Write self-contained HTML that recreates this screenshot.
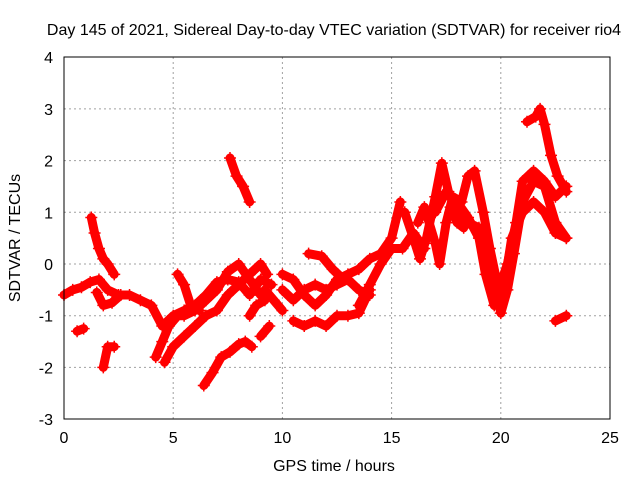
<!DOCTYPE html>
<html><head><meta charset="utf-8"><style>
body{margin:0;background:#fff}
svg text{font-family:"Liberation Sans",sans-serif;font-size:16px;fill:#000}
</style></head><body>
<svg id="chart" width="640" height="480" xmlns="http://www.w3.org/2000/svg">
<g id="grid"></g>
<g id="marks"></g>
<rect x="64" y="57" width="546" height="362" fill="none" stroke="#000" stroke-width="1"/>
<g id="ticks"></g>
<text x="334" y="35" text-anchor="middle">Day 145 of 2021, Sidereal Day-to-day VTEC variation (SDTVAR) for receiver rio4</text>
<text x="334" y="471" text-anchor="middle">GPS time / hours</text>
<text transform="translate(20,238) rotate(-90)" text-anchor="middle">SDTVAR / TECUs</text>
</svg>
<script>
const xTicks=[0,5,10,15,20,25];
const yTicks=[-3,-2,-1,0,1,2,3,4];
const trackTimes=[
[0,0.4,0.8,1.2,1.6,2.0,2.5,3,3.5,4.0,4.5,5,5.5,6,6.5,7,7.5,8,8.5,9,9.5],
[1.25,1.4,1.6,1.8,2.0,2.3],
[1.5,1.8,2.2,2.6],
[0.6,0.9],
[1.8,2.0,2.3],
[4.2,4.5,4.8,5.2,5.5,6,6.5,7,7.5,8,8.5,9],
[4.6,5,5.5,6,6.5,7,7.5,8,8.5,9,9.3],
[5.2,5.5,5.8,6.2],
[6.4,6.8,7.2,7.6,8.0,8.3,8.6],
[7.6,7.9,8.2,8.5],
[8.5,8.8,9.2],
[9.0,9.4],
[10,10.5,11,11.5,12,12.5,13,13.5,14],
[10,10.5,11,11.5,12,12.5,13,13.5,14,14.5,15,15.4],
[10.5,11,11.5,12,12.5,13,13.5,14],
[11.2,11.8,12.3,12.8],
[9.2,9.6,10],
[13.5,14,14.5,15,15.5,16,16.5],
[15.6,16,16.3,16.6,17,17.3,17.6,18,18.5,19,19.5,19.8,20,20.3,20.6,21,21.5,22,22.5,23],
[16.2,16.5,17,17.2,17.5,17.8,18.2,18.5,18.8,19.2,19.5,19.9,20.3,20.7,21,21.5,22,22.5,23],
[17,17.5,18,18.5,19,19.3,19.7,20.2,20.5,21,21.5,22,22.5,23],
[21.2,21.6,21.8,22,22.3,22.6,23],
[22.5,23],
[17.7,18,18.3]
];
const trackValues=[
[-0.6,-0.5,-0.45,-0.35,-0.3,-0.5,-0.6,-0.6,-0.7,-0.8,-1.2,-1.0,-0.9,-0.8,-0.6,-0.35,-0.3,-0.35,-0.6,-0.3,-0.4],
[0.9,0.6,0.3,0.1,0.0,-0.2],
[-0.55,-0.8,-0.75,-0.6],
[-1.3,-1.25],
[-2.0,-1.6,-1.6],
[-1.8,-1.5,-1.2,-1.0,-1.0,-0.9,-0.7,-0.5,-0.15,0.0,-0.3,-0.6],
[-1.9,-1.6,-1.4,-1.2,-1.0,-0.9,-0.6,-0.4,-0.2,0.0,-0.2],
[-0.2,-0.4,-0.8,-0.9],
[-2.35,-2.1,-1.8,-1.7,-1.55,-1.5,-1.6],
[2.05,1.7,1.5,1.2],
[-1.0,-0.8,-0.7],
[-1.4,-1.2],
[-0.5,-0.7,-0.5,-0.4,-0.5,-0.4,-0.3,-0.5,-0.6],
[-0.2,-0.3,-0.6,-0.8,-0.6,-0.3,-0.2,-0.1,0.1,0.2,0.5,1.2],
[-1.1,-1.2,-1.1,-1.2,-1.0,-1.0,-0.95,-0.5],
[0.2,0.15,-0.1,-0.3],
[-0.5,-0.7,-0.9],
[-0.8,-0.4,0.0,0.3,0.3,0.6,0.3],
[1.0,0.5,0.1,0.5,1.3,1.95,1.4,1.0,0.8,0.7,0.0,-0.6,-0.95,-0.5,0.2,1.2,1.6,1.5,0.8,0.5],
[0.8,1.1,0.4,0.0,0.8,1.3,1.2,1.7,1.8,1.0,0.3,-0.5,0.0,0.8,1.6,1.8,1.6,1.3,1.5],
[1.0,1.4,1.2,0.9,0.5,-0.2,-0.8,-0.3,0.5,1.0,1.2,1.0,0.6,0.5],
[2.75,2.85,3.0,2.7,2.1,1.7,1.4],
[-1.1,-1.0],
[1.1,0.8,0.7]
];
const NS='http://www.w3.org/2000/svg';
const X=t=>64+t*546/25;
const Y=v=>264-v*362/7;
const grid=document.getElementById('grid'),ticks=document.getElementById('ticks'),marks=document.getElementById('marks');
function mk(tag,attrs,parent){const e=document.createElementNS(NS,tag);for(const k in attrs)e.setAttribute(k,attrs[k]);parent.appendChild(e);return e;}
xTicks.forEach(t=>{
 if(t>0&&t<25){const g=mk('line',{x1:X(t),x2:X(t),y1:57,y2:419,stroke:'#a0a0a0','stroke-dasharray':'2,3'},grid);
 
 }
 const l=mk('text',{x:X(t),y:443,'text-anchor':'middle'},ticks);l.textContent=t;
 
 
});
yTicks.forEach(v=>{
 if(v>-3&&v<4){const g=mk('line',{x1:64,x2:610,y1:Y(v),y2:Y(v),stroke:'#a0a0a0','stroke-dasharray':'2,3'},grid);
 
 }
 const l=mk('text',{x:53,y:Y(v)+6,'text-anchor':'end'},ticks);l.textContent=v;
 
 
});
trackTimes.forEach((ts,i)=>{
 const vs=trackValues[i];
 const pts=ts.map((t,j)=>X(t).toFixed(1)+','+Y(vs[j]).toFixed(1)).join(' ');
 const p=mk('polyline',{points:pts,fill:'none',stroke:'#ff0000','stroke-width':9,'stroke-linejoin':'round','stroke-linecap':'round'},marks);
 
 
 ts.forEach((t,j)=>{
  const x=X(t),y=Y(vs[j]);
  const m=mk('path',{d:`M${x-6},${y}H${x+6}M${x},${y-6}V${y+6}`,stroke:'#ff0000','stroke-width':1.5},marks);
  
  
 });
});
</script>
</body></html>
